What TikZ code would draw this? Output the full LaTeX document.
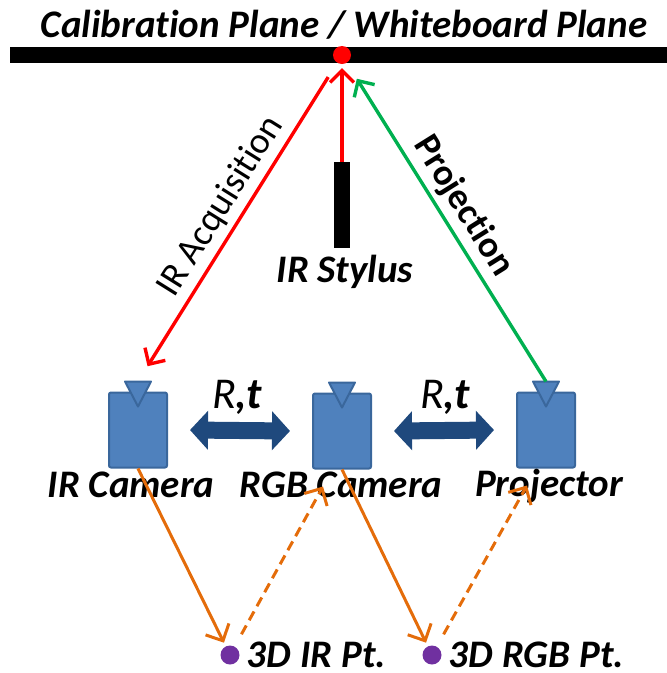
\documentclass[tikz,border=0pt]{standalone}
\usepackage{fontspec}
\setmainfont{Carlito}[Ligatures=NoCommon]
\usetikzlibrary{arrows.meta,positioning}
\definecolor{camblue}{HTML}{4F81BD}
\definecolor{camedge}{HTML}{3A679C}
\definecolor{rtblue}{HTML}{1F497D}
\definecolor{raygreen}{HTML}{00B050}
\definecolor{measorange}{HTML}{E46C0A}
\definecolor{ptpurple}{HTML}{7030A0}
\tikzset{
	lbl/.style={font=\fontsize{39}{42}\selectfont\bfseries\itshape,inner sep=0pt},
	raylbl/.style={text=black,font=\fontsize{37}{40}\selectfont,inner sep=5pt},
	cambox/.style={draw=camedge,fill=camblue,line width=2pt,rounded corners=2pt,minimum width=58pt,minimum height=75pt,inner sep=0pt},
	lens/.style={draw=camedge,fill=camblue,line width=2pt,line join=round},
	ray/.style={line width=3.4pt,-{Straight Barb[length=12pt,width=24pt]}},
	rtarrow/.style={rtblue,line width=17pt,{Triangle[length=18pt,width=38pt]}-{Triangle[length=18pt,width=38pt]}},
	meas/.style={measorange,line width=3pt,-{Straight Barb[length=13pt,width=26pt]}},
	measback/.style={meas,dash pattern=on 10pt off 6pt},
	ptdot/.style={circle,fill=ptpurple,minimum size=19pt,inner sep=0pt}
}
\begin{document}
\begin{tikzpicture}[x=1pt,y=-1pt]
	\useasboundingbox (0,0) rectangle (667,673);
	% the plane on top
	\node[fill=black,minimum width=657pt,minimum height=16pt,inner sep=0pt] (plane) at (338.5,55) {};
	\node[lbl,anchor=base] (title) at (344,37) {Calibration Plane / Whiteboard Plane};
	\node[circle,fill=red,minimum size=18pt,inner sep=0pt] (hit) at (342,55) {};
	
	\node[fill=black,minimum width=16pt,minimum height=86pt,inner sep=0pt] (stylus) at (342,205) {};
	\node[lbl,anchor=base] (styluslbl) at (345,282) {IR Stylus};
	
	% cameras
	\node[cambox] (ircam) at (138,430) {};
	\node[cambox] (rgbcam) at (342,431) {};
	\node[cambox] (projcam) at (546,430) {};
	\foreach \c in {ircam,rgbcam,projcam}
		\draw[lens] ([xshift=-13pt,yshift=10pt]\c.north) -- ([xshift=13pt,yshift=10pt]\c.north) -- ([yshift=-15pt]\c.north) -- cycle;
	
	\node[lbl,anchor=base] (irlbl) at (131,497) {IR Camera};
	\node[lbl,anchor=base] (rgblbl) at (341,497) {RGB Camera};
	\node[lbl,anchor=base] (projlbl) at (549,496) {Projector};
	
	\draw[rtarrow] ([xshift=22pt]ircam.east) -- ([xshift=-22pt]rgbcam.west);
	\draw[rtarrow] ([xshift=22pt]rgbcam.east) -- ([xshift=-22pt]projcam.west);
	\node[lbl,font=\fontsize{44}{48}\selectfont,anchor=base] (rt1) at (237,408) {\textit{R}\textbf{\textit{,t}}};
	\node[lbl,font=\fontsize{44}{48}\selectfont,anchor=base] (rt2) at (445,408) {\textit{R}\textbf{\textit{,t}}};
	
	% rays to the plane
	\draw[ray,red,shorten <=26pt,shorten >=18pt] (hit.center) -- ([yshift=10pt]ircam.north)
		node[raylbl,midway,sloped,above] {IR Acquisition};
	\draw[ray,red,shorten >=13pt] (stylus.north) -- (hit.center);
	\draw[ray,raygreen,shorten >=28pt] ([yshift=10pt]projcam.north) -- (hit.center)
		node[raylbl,font=\fontsize{37}{40}\selectfont\bfseries,midway,sloped,above] {Projection};
	
	% 3D points
	\node[ptdot] (irpt) at (230,655) {};
	\node[ptdot] (rgbpt) at (432,655) {};
	\node[lbl,right=7pt of irpt] (irptlbl) {3D IR Pt.};
	\node[lbl,right=7pt of rgbpt] (rgbptlbl) {3D RGB Pt.};
	
	\draw[meas,shorten >=4pt] (ircam.south) -- (irpt);
	\draw[measback,shorten <=14pt] (irpt) -- ([xshift=-19pt,yshift=-17pt]rgbcam.south);
	\draw[meas,shorten >=4pt] (rgbcam.south) -- (rgbpt);
	\draw[measback,shorten <=14pt] (rgbpt) -- ([xshift=-19pt,yshift=-17pt]projcam.south);
\end{tikzpicture}
\end{document}
